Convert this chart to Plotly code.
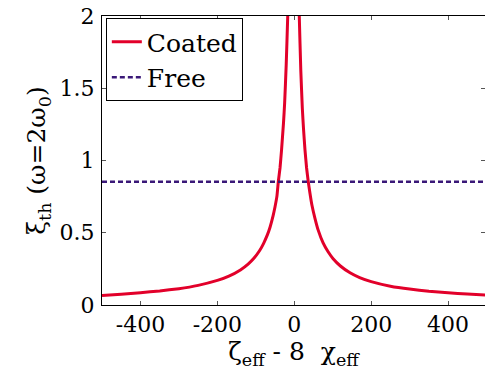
import plotly.graph_objects as go

# Thermal noise ratio of the coated resonator versus the detuning parameter
coated_x = [-500, -450, -400, -350, -300, -250, -200, -170, -140, -120, -105, -90,
            -80, -70, -63, -55, -50, -45, -41.5, -37, -33, -28, -25, -21, -17, -13, -9,
            -1,
            7, 10, 13, 17, 21, 24, 27.8, 32, 36.4, 41, 46, 53.8, 62, 75, 88, 101, 120,
            145, 170, 200, 250, 300, 350, 400, 450, 500]
coated_y = [0.066, 0.075, 0.085, 0.097, 0.113, 0.136, 0.170, 0.200, 0.243, 0.283, 0.323, 0.377,
            0.425, 0.485, 0.538, 0.618, 0.680, 0.755, 0.853, 0.950, 1.076, 1.260, 1.400, 1.660, 2.000, 2.550, 3.400,
            30.0,
            3.600, 2.600, 2.000, 1.620, 1.360, 1.220, 1.076, 0.950, 0.853, 0.770, 0.690, 0.600, 0.520, 0.430, 0.368, 0.320, 0.270,
            0.223, 0.190, 0.162, 0.130, 0.110, 0.095, 0.084, 0.076, 0.069]

# Free resonator: constant level
free_x = [-500, 500]
free_y = [0.853, 0.853]

x_ticks = [-400, -200, 0, 200, 400]
x_tick_text = ["-400", "-200", "0", "200", "400"]
y_ticks = [0, 0.5, 1, 1.5, 2]
y_tick_text = ["0", "0.5", "1", "1.5", "2"]

serif = "DejaVu Serif"

fig = go.Figure()
fig.add_trace(go.Scatter(
    x=coated_x, y=coated_y, mode="lines", name="Coated",
    line=dict(color="#e2002a", width=3, shape="spline", smoothing=0.3),
))
fig.add_trace(go.Scatter(
    x=free_x, y=free_y, mode="lines", name="Free",
    line=dict(color="#3a1878", width=2.5, dash="5px,3px"),
))

fig.update_layout(
    width=485, height=388,
    margin=dict(l=102, r=0, t=16, b=83),
    paper_bgcolor="white", plot_bgcolor="white",
    font=dict(family=serif, color="black"),
    showlegend=True,
    legend=dict(
        x=0.01, y=0.993, xanchor="left", yanchor="top",
        bgcolor="white", bordercolor="black", borderwidth=1,
        font=dict(family=serif, size=25, color="black"),
        itemwidth=30,
    ),
    xaxis=dict(
        range=[-500, 496], tickvals=x_ticks, ticktext=x_tick_text,
        ticks="inside", ticklen=4, tickcolor="#555555",
        showline=True, linecolor="black", linewidth=1, mirror="ticks",
        showgrid=False, zeroline=False,
        tickfont=dict(family=serif, size=22, color="black"),
        title=dict(text="ζ<sub>eff</sub> - 8  χ<sub>eff</sub>",
                   font=dict(family=serif, size=25, color="black"), standoff=4),
    ),
    yaxis=dict(
        range=[0, 2], tickvals=y_ticks, ticktext=y_tick_text,
        ticks="inside", ticklen=4, tickcolor="#555555",
        showline=True, linecolor="black", linewidth=1, mirror="ticks",
        showgrid=False, zeroline=False,
        tickfont=dict(family=serif, size=22, color="black"),
        ticklabelstandoff=2,
        title=dict(text="ξ<sub>th</sub> (ω=2ω<sub>0</sub>)",
                   font=dict(family=serif, size=25, color="black"), standoff=6),
    ),
)

fig.write_html("out.html")
